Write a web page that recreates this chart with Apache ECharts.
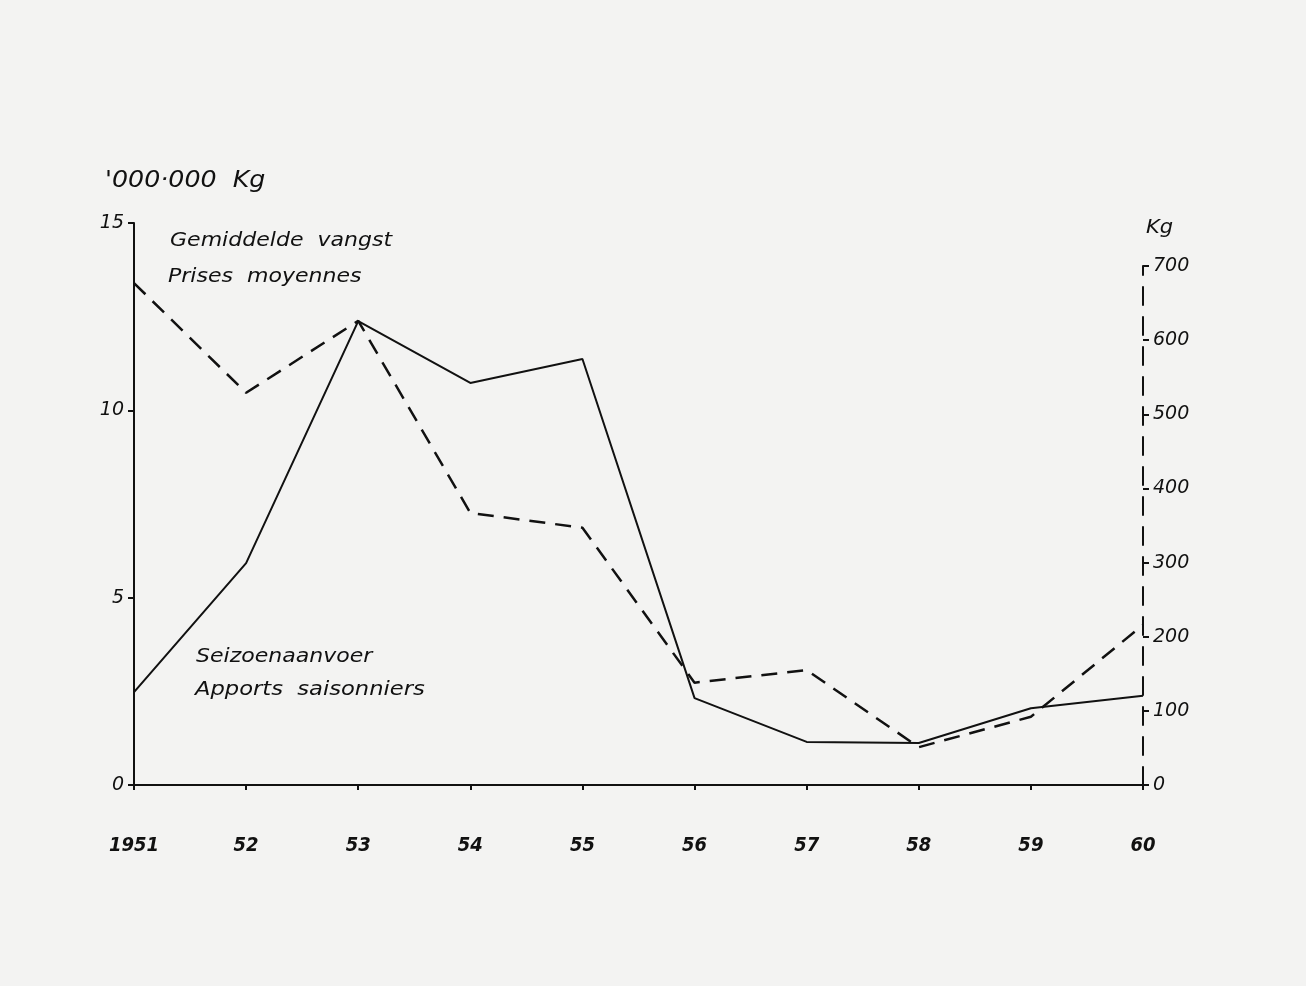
<!DOCTYPE html>
<html>
<head>
<meta charset="utf-8">
<script src="https://cdn.jsdelivr.net/npm/echarts@6/dist/echarts.min.js"></script>
<style>
html,body{margin:0;padding:0;background:#f3f3f2;}
#c{width:1306px;height:986px;}
</style>
</head>
<body>
<div id="c"></div>
<script>
// Data
const years = ['1951','52','53','54','55','56','57','58','59','60'];
// Seizoenaanvoer / Apports saisonniers ('000.000 Kg) - solid line, left axis
const seasonalLandings = [2.48, 5.92, 12.38, 10.73, 11.37, 2.32, 1.15, 1.12, 2.05, 2.38];
// Gemiddelde vangst / Prises moyennes (Kg) - dashed line, right axis
const averageCatch = [677, 529, 626, 367, 347, 138, 155, 51, 92, 216];
const leftTicks = {min: 0, max: 15, interval: 5};
const rightTicks = {min: 0, max: 700, interval: 100};

const ink = '#111';
const font = 'DejaVu Sans';
const chart = echarts.init(document.getElementById('c'), null, {renderer: 'canvas'});
const axisLabelStyle = {color: ink, fontFamily: font, fontStyle: 'italic', fontSize: 19};
function label(text, x, y, size, sx) {
  return {type: 'text', x: x, y: y, scaleX: sx, originX: 0, originY: 0,
    style: {text: text, fill: ink, font: 'italic ' + size + 'px "DejaVu Sans"', textAlign: 'left', textVerticalAlign: 'top'}};
}
chart.setOption({
  backgroundColor: '#f3f3f2',
  animation: false,
  grid: [
    {left: 134, right: 163, top: 223, bottom: 201},
    {left: 134, right: 163, top: 266, bottom: 201}
  ],
  xAxis: [
    {type: 'category', gridIndex: 0, data: years, boundaryGap: false,
     axisLine: {lineStyle: {color: ink, width: 2}},
     axisTick: {show: true, length: 5, lineStyle: {color: ink, width: 2}},
     axisLabel: {color: ink, fontFamily: '"DejaVu Sans Condensed", "DejaVu Sans", sans-serif', fontStyle: 'italic', fontWeight: 'bold', fontSize: 20, margin: 51},
     splitLine: {show: false}},
    {type: 'category', gridIndex: 1, data: years, boundaryGap: false, show: false}
  ],
  yAxis: [
    {type: 'value', gridIndex: 0, position: 'left', min: leftTicks.min, max: leftTicks.max, interval: leftTicks.interval,
     axisLine: {show: true, lineStyle: {color: ink, width: 2}},
     axisTick: {show: true, length: 6, lineStyle: {color: ink, width: 2}},
     axisLabel: Object.assign({margin: 10}, axisLabelStyle),
     splitLine: {show: false}},
    {type: 'value', gridIndex: 1, position: 'right', min: rightTicks.min, max: rightTicks.max, interval: rightTicks.interval,
     axisLine: {show: true, lineStyle: {color: ink, width: 2, type: [18, 12]}},
     axisTick: {show: true, length: 6, lineStyle: {color: ink, width: 2}},
     axisLabel: Object.assign({margin: 10}, axisLabelStyle),
     splitLine: {show: false}}
  ],
  series: [
    {name: 'Seizoenaanvoer', type: 'line', xAxisIndex: 0, yAxisIndex: 0, data: seasonalLandings,
     showSymbol: false, symbol: 'none', lineStyle: {color: ink, width: 2}},
    {name: 'Gemiddelde vangst', type: 'line', xAxisIndex: 1, yAxisIndex: 1, data: averageCatch,
     showSymbol: false, symbol: 'none', lineStyle: {color: ink, width: 2.5, type: [16, 10]}}
  ],
  graphic: [
    label("'000·000  Kg", 105, 170, 23, 1.1),
    label('Kg', 1146, 218, 20, 1.05),
    label('Gemiddelde  vangst', 170, 232, 19, 1.16),
    label('Prises  moyennes', 168, 268, 19, 1.16),
    label('Seizoenaanvoer', 196, 648, 19, 1.16),
    label('Apports  saisonniers', 195, 681, 19, 1.19)
  ]
});
</script>
</body>
</html>
